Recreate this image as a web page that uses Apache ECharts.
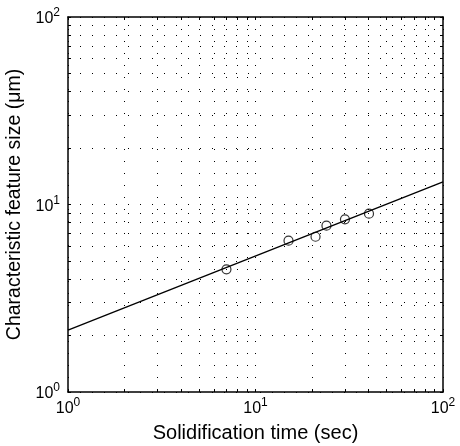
<!DOCTYPE html>
<html>
<head>
<meta charset="utf-8">
<script src="https://cdn.jsdelivr.net/npm/echarts@6/dist/echarts.min.js"></script>
<style>
  html, body { margin: 0; padding: 0; background: #fff; }
  #chart { width: 460px; height: 446px; }
</style>
</head>
<body>
<div id="chart"></div>
<script>
// measured points (sec, um)
const solidTime = [7.0, 15.0, 20.9, 23.9, 30.0, 40.3];
const featureSize = [4.51, 6.41, 6.73, 7.71, 8.34, 8.93];

// fitted power-law line, end points at the axis limits
const fitTime = [1, 100];
const fitSize = [2.14, 13.2];

// tick positions (log decades + minor)
const tickValues = [1, 2, 3, 4, 5, 6, 7, 8, 9, 10, 20, 30, 40, 50, 60, 70, 80, 90, 100];
const labelValues = [1, 10, 100];
const labelExp = { 1: '0', 10: '1', 100: '2' };

const font = 'Liberation Sans, Arial, Helvetica, sans-serif';

const chart = echarts.init(document.getElementById('chart'));

function powLabel(v) {
    return '{b|10}{s|' + labelExp[Math.round(v)] + '}';
}
const richLabel = {
    b: { fontSize: 16, fontFamily: font, color: '#000', verticalAlign: 'bottom' },
    s: { fontSize: 12, fontFamily: font, color: '#000', verticalAlign: 'top', padding: [0, 0, 8, 0] }
};

function makeAxis(pos, isMain, extra) {
    return Object.assign({
        type: 'log',
        logBase: 10,
        min: 1,
        max: 100,
        position: pos,
        axisLine: { show: true, onZero: false, lineStyle: { color: '#000', width: 1.5 } },
        axisTick: {
            show: true,
            inside: true,
            length: 3,
            customValues: tickValues,
            lineStyle: { color: '#000', width: 1 }
        },
        minorTick: { show: false },
        splitLine: {
            show: isMain,
            lineStyle: { color: '#000', width: 1, type: [1, 11] }
        },
        axisLabel: isMain ? {
            customValues: labelValues,
            formatter: powLabel,
            rich: richLabel
        } : { show: false }
    }, extra || {});
}

chart.setOption({
    animation: false,
    backgroundColor: '#fff',
    grid: { left: 68, top: 17, right: 17, bottom: 54, containLabel: false, outerBoundsMode: 'none' },
    xAxis: [
        makeAxis('bottom', true, {
            name: 'Solidification time (sec)',
            nameLocation: 'middle',
            nameGap: 31,
            nameTextStyle: { fontSize: 20, fontFamily: font, color: '#000' },
            axisLabel: { customValues: labelValues, formatter: powLabel, rich: richLabel, margin: 5 }
        }),
        makeAxis('top', false)
    ],
    yAxis: [
        makeAxis('left', true, {
            name: 'Characteristic feature size (\u03bcm)',
            nameLocation: 'middle',
            nameGap: 38,
            nameTextStyle: { fontSize: 19.5, fontFamily: font, color: '#000' },
            axisLabel: { customValues: labelValues, formatter: powLabel, rich: richLabel, margin: 8 }
        }),
        makeAxis('right', false)
    ],
    series: [
        {
            type: 'line',
            data: fitTime.map((t, i) => [t, fitSize[i]]),
            showSymbol: false,
            lineStyle: { color: '#000', width: 1.3 },
            silent: true
        },
        {
            type: 'scatter',
            data: solidTime.map((t, i) => [t, featureSize[i]]),
            symbol: 'circle',
            symbolSize: 9,
            itemStyle: { color: 'rgba(255,255,255,0)', borderColor: '#000', borderWidth: 1.2 }
        }
    ]
});
</script>
</body>
</html>
